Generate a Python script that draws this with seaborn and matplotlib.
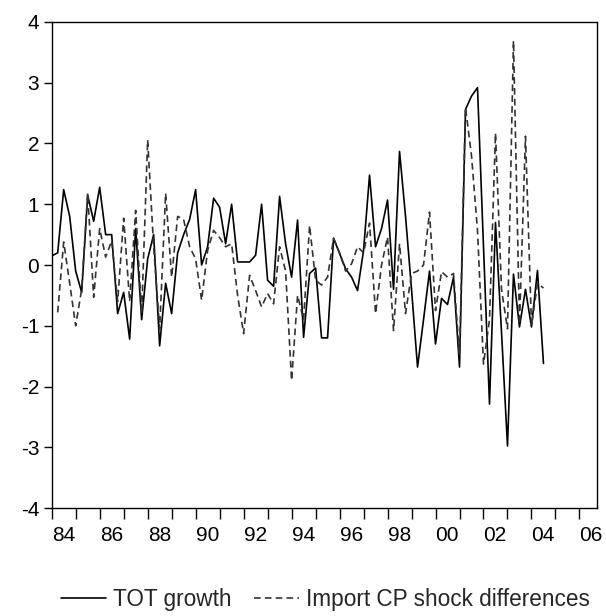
import numpy as np
import pandas as pd
import matplotlib
matplotlib.use("Agg")
import matplotlib.pyplot as plt
import seaborn as sns

# ---- data (quarterly, 1984Q1 - 2004Q3) ----
start_quarter = "1984Q1"
tot_growth = [0.15, 0.2, 1.24, 0.8, -0.1, -0.45, 1.15, 0.72, 1.28, 0.5,
              0.5, -0.8, -0.45, -1.22, 0.6, -0.9, 0.1, 0.5, -1.33, -0.3,
              -0.8, 0.2, 0.5, 0.75, 1.24, 0.0, 0.3, 1.1, 0.95, 0.35,
              1.0, 0.05, 0.05, 0.05, 0.16, 1.0, -0.25, -0.35, 1.13, 0.35,
              -0.2, 0.74, -1.19, -0.14, -0.05, -1.2, -1.2, 0.44, 0.19, -0.06,
              -0.2, -0.42, 0.24, 1.48, 0.3, 0.6, 1.07, -0.4, 1.87, 0.8,
              -0.4, -1.68, -0.9, -0.1, -1.3, -0.55, -0.65, -0.2, -1.68, 2.56,
              2.78, 2.92, 0.3, -2.29, 0.7, -1.1, -2.98, -0.15, -1.02, -0.4,
              -1.02, -0.09, -1.62]
# differences start one quarter later (1984Q2)
import_cp_diff = [-0.78, 0.38, -0.3, -1.0, -0.4, 1.18, -0.53, 0.6, 0.13,
                  0.4, -0.6, 0.77, -0.6, 0.9, -0.8, 2.06, 0.3, -1.05, 1.18,
                  -0.2, 0.8, 0.75, 0.3, 0.1, -0.58, 0.24, 0.57, 0.45, 0.3,
                  0.35, -0.5, -1.13, -0.17, -0.42, -0.69, -0.47, -0.64, 0.3, -0.1,
                  -1.9, -0.5, -0.9, 0.65, -0.25, -0.33, -0.2, 0.44, 0.2, -0.1,
                  0.02, 0.3, 0.2, 0.69, -0.8, 0.0, 0.46, -1.08, 0.35, -0.8,
                  -0.14, -0.1, 0.0, 0.87, -0.75, -0.11, -0.2, -0.14, -1.5, 2.59,
                  1.8, 0.57, -1.63, -0.9, 2.17, -0.4, -1.05, 3.69, -0.97, 2.12,
                  -1.0, -0.3, -0.38]
series_names = ["TOT growth", "Import CP shock differences"]
year_labels = ["84", "86", "88", "90", "92", "94", "96", "98", "00", "02", "04", "06"]
y_ticks = [-4, -3, -2, -1, 0, 1, 2, 3, 4]

periods = pd.period_range(start_quarter, periods=len(tot_growth), freq="Q")
t = periods.year + (periods.quarter - 1) / 4.0

df_tot = pd.DataFrame({"t": t, "v": tot_growth})
df_imp = pd.DataFrame({"t": t[1:], "v": import_cp_diff})

sns.set_style("ticks")
plt.rcParams["font.family"] = ["Liberation Sans", "DejaVu Sans"]
plt.rcParams["axes.unicode_minus"] = False

fig = plt.figure(figsize=(6.06, 6.16), dpi=100)
ax = fig.add_axes([0.0853, 0.1753, 0.8994, 0.789])

sns.lineplot(data=df_tot, x="t", y="v", ax=ax, color="black", linewidth=1.2,
             label=series_names[0])
sns.lineplot(data=df_imp, x="t", y="v", ax=ax, color="#333333", linewidth=1.2,
             label=series_names[1])
ax.lines[1].set_linestyle((0, (4, 2.5)))

ax.set_xlim(1984.0, 2006.72)
ax.set_ylim(-4, 4)
years = np.arange(1984, 2007)
ax.set_xticks(years)
lab = []
for y in years:
    s = str(y)[2:]
    lab.append(s if s in year_labels and y % 2 == 0 else "")
ax.set_xticklabels(lab, ha="left")
ax.set_yticks(y_ticks)
ax.set_yticklabels([str(v) for v in y_ticks])
ax.set_xlabel("")
ax.set_ylabel("")

for sp in ax.spines.values():
    sp.set_visible(True)
    sp.set_linewidth(1.0)
    sp.set_color("black")
ax.tick_params(axis="x", length=8, width=1.0, pad=5, labelsize=15, colors="black")
ax.tick_params(axis="y", length=6, width=1.0, pad=3, labelsize=15, colors="black")

ax.get_legend().remove()
h, l = ax.get_legend_handles_labels()
fig.legend(h, l, loc="center", bbox_to_anchor=(0.537, 0.027), ncol=2,
           frameon=False, fontsize=16.3, handlelength=2.0, handletextpad=0.3,
           columnspacing=1.0)

fig.savefig("out.png", dpi=100, facecolor="white")
